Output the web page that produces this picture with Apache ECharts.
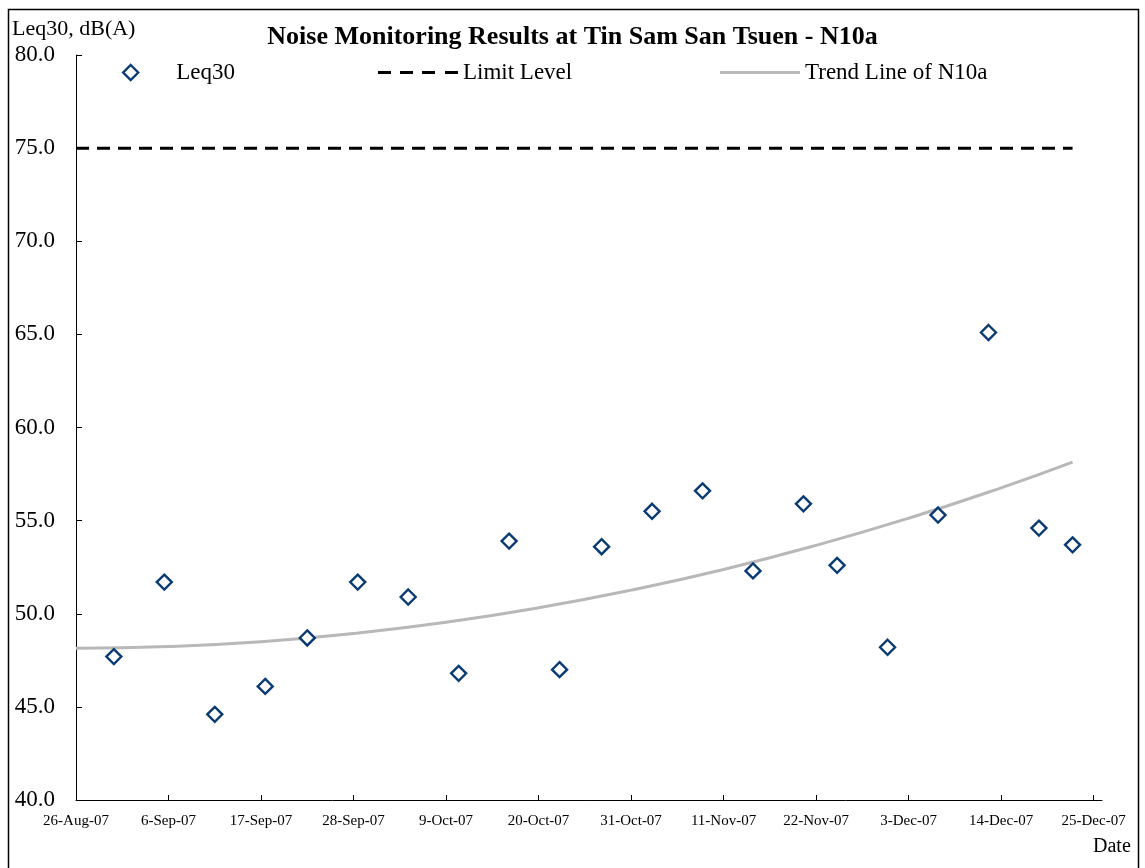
<!DOCTYPE html>
<html>
<head>
<meta charset="utf-8">
<title>Noise Monitoring Results at Tin Sam San Tsuen - N10a</title>
<script src="https://cdn.jsdelivr.net/npm/echarts@6/dist/echarts.min.js"></script>
<style>
  html, body { margin: 0; padding: 0; background: #fff; }
  #chart { width: 1145px; height: 868px; }
</style>
</head>
<body>
<div id="chart"></div>
<script>
// monitoring dates and Leq30 readings, dB(A)
const sampleDates = [
  '2007-08-30T12:00Z', '2007-09-05T12:00Z', '2007-09-11T12:00Z', '2007-09-17T12:00Z',
  '2007-09-22T12:00Z', '2007-09-28T12:00Z', '2007-10-04T12:00Z', '2007-10-10T12:00Z',
  '2007-10-16T12:00Z', '2007-10-22T12:00Z', '2007-10-27T12:00Z', '2007-11-02T12:00Z',
  '2007-11-08T12:00Z', '2007-11-14T12:00Z', '2007-11-20T12:00Z', '2007-11-24T12:00Z',
  '2007-11-30T12:00Z', '2007-12-06T12:00Z', '2007-12-12T12:00Z', '2007-12-18T12:00Z',
  '2007-12-22T12:00Z'
];
const leq30 = [
  47.7, 51.7, 44.6, 46.1, 48.7, 51.7, 50.9, 46.8, 53.9, 47.0, 53.6,
  55.5, 56.6, 52.3, 55.9, 52.6, 48.2, 55.3, 65.1, 54.6, 53.7
];

// limit level
const limitDates = ['2007-08-26T00:00Z', '2007-12-22T12:00Z'];
const limitLevel = 75;

// trend line of N10a
const trendDates = [
  '2007-08-26T00:00Z', '2007-09-06T00:00Z', '2007-09-17T00:00Z', '2007-09-28T00:00Z',
  '2007-10-09T00:00Z', '2007-10-20T00:00Z', '2007-10-31T00:00Z', '2007-11-11T00:00Z',
  '2007-11-22T00:00Z', '2007-12-03T00:00Z', '2007-12-14T00:00Z', '2007-12-22T12:00Z'
];
const trendValues = [48.15, 48.24, 48.5, 48.94, 49.54, 50.32, 51.27, 52.38, 53.67, 55.13, 56.76, 58.14];

// date axis: 26-Aug-07 .. 26-Dec-07, labels every 11 days up to 25-Dec-07
const axisStart = '2007-08-26T00:00Z';
const axisEnd = '2007-12-26T00:00Z';
const tickDates = [
  '2007-08-26T00:00Z', '2007-09-06T00:00Z', '2007-09-17T00:00Z', '2007-09-28T00:00Z',
  '2007-10-09T00:00Z', '2007-10-20T00:00Z', '2007-10-31T00:00Z', '2007-11-11T00:00Z',
  '2007-11-22T00:00Z', '2007-12-03T00:00Z', '2007-12-14T00:00Z', '2007-12-25T00:00Z'
];
const yTicks = { min: 40, max: 80, step: 5 };

const MONTHS = ['Jan', 'Feb', 'Mar', 'Apr', 'May', 'Jun', 'Jul', 'Aug', 'Sep', 'Oct', 'Nov', 'Dec'];
const DAY = 86400000;
const t0 = Date.parse(axisStart);

function dayOf(s) {
  return (Date.parse(s) - t0) / DAY;
}

function dateLabel(v) {
  const d = new Date(t0 + v * DAY);
  return d.getUTCDate() + '-' + MONTHS[d.getUTCMonth()] + '-' + String(d.getUTCFullYear()).slice(2);
}

const font = "'Liberation Serif', 'Times New Roman', serif";
const navy = '#0a3b72';
const trendGrey = '#b8b8b8';
const tickDays = tickDates.map(dayOf);

// line legend icons drawn as paths so no stray symbols appear
const dashIcon = 'path://M0,0h13v3h-13zM22,0h13v3h-13zM44,0h13v3h-13zM67,0h13v3h-13z';
const barIcon = 'path://M0,0h80v3h-80z';

function legendAt(left, size, item, textPad) {
  return {
    left: left,
    top: 56,
    itemWidth: size[0],
    itemHeight: size[1],
    itemGap: 0,
    symbolKeepAspect: true,
    textStyle: { fontFamily: font, fontSize: 23, color: '#000', padding: [0, 0, 0, textPad] },
    data: [item]
  };
}

let myChart = echarts.init(document.getElementById('chart'));

let option = {
  backgroundColor: '#fff',
  animation: false,
  textStyle: { fontFamily: font, color: '#000' },
  title: {
    text: 'Noise Monitoring Results at Tin Sam San Tsuen - N10a',
    left: 'center',
    top: 19,
    textStyle: { fontFamily: font, fontSize: 26, fontWeight: 'bold', color: '#000' }
  },
  legend: [
    legendAt(117, [15, 15], {
      name: 'Leq30',
      icon: 'diamond',
      itemStyle: { color: '#fff', borderColor: navy, borderWidth: 2.4 }
    }, 33),
    legendAt(373, [80, 12], { name: 'Limit Level', icon: dashIcon, itemStyle: { color: '#000' } }, 0),
    legendAt(715, [80, 12], { name: 'Trend Line of N10a', icon: barIcon, itemStyle: { color: trendGrey } }, 0)
  ],
  graphic: [
    {
      type: 'rect',
      shape: { x: 8.5, y: 9.5, width: 1130, height: 880 },
      style: { fill: 'none', stroke: '#000', lineWidth: 1.5 },
      silent: true
    },
    {
      type: 'text',
      left: 12,
      top: 18,
      style: { text: 'Leq30, dB(A)', font: '22px ' + font, fill: '#000' }
    },
    {
      type: 'text',
      left: 1093,
      top: 837,
      style: { text: 'Date', font: '20px ' + font, fill: '#000' }
    }
  ],
  grid: {
    left: 76,
    right: 43,
    top: 55,
    bottom: 68
  },
  xAxis: {
    type: 'value',
    min: 0,
    max: dayOf(axisEnd),
    axisLine: { lineStyle: { color: '#000', width: 1 } },
    axisTick: { inside: true, length: 5, lineStyle: { color: '#000' }, customValues: tickDays },
    axisLabel: {
      margin: 14,
      fontFamily: font,
      fontSize: 15,
      color: '#000',
      customValues: tickDays,
      formatter: dateLabel
    },
    splitLine: { show: false }
  },
  yAxis: {
    type: 'value',
    min: yTicks.min,
    max: yTicks.max,
    interval: yTicks.step,
    axisLine: { show: true, lineStyle: { color: '#000', width: 1 } },
    axisTick: { show: true, inside: true, length: 6, lineStyle: { color: '#000' } },
    axisLabel: {
      margin: 21,
      fontFamily: font,
      fontSize: 23,
      color: '#000',
      formatter: v => v.toFixed(1)
    },
    splitLine: { show: false }
  },
  series: [
    {
      name: 'Leq30',
      type: 'scatter',
      symbol: 'diamond',
      symbolSize: 15,
      itemStyle: { color: '#fff', borderColor: navy, borderWidth: 2.4, opacity: 1 },
      z: 5,
      data: sampleDates.map((d, i) => [dayOf(d), leq30[i]])
    },
    {
      name: 'Limit Level',
      type: 'line',
      symbol: 'none',
      lineStyle: { color: '#000', width: 3, type: [13, 8] },
      itemStyle: { color: '#000' },
      data: limitDates.map(d => [dayOf(d), limitLevel])
    },
    {
      name: 'Trend Line of N10a',
      type: 'line',
      symbol: 'none',
      smooth: true,
      lineStyle: { color: trendGrey, width: 3 },
      itemStyle: { color: trendGrey },
      data: trendDates.map((d, i) => [dayOf(d), trendValues[i]])
    }
  ]
};

option && myChart.setOption(option);
</script>
</body>
</html>
